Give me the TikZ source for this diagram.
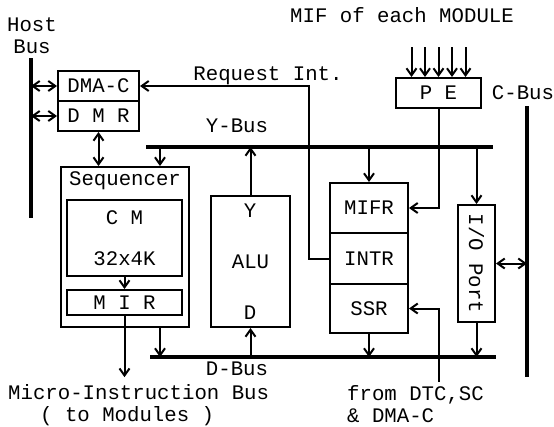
\documentclass[tikz,border=0pt]{standalone}
\usepackage{fontspec}
\setmonofont{Liberation Mono}
\usetikzlibrary{arrows.meta,calc}
\begin{document}
\begin{tikzpicture}[x=1pt,y=-1pt,
    >={Straight Barb[length=7pt,width=10pt]},
    every node/.style={font=\ttfamily\fontsize{20.7}{22}\selectfont, inner sep=0pt},
    blk/.style={draw, line width=2pt},
    bus/.style={line width=4.5pt},
    lnk/.style={line width=2pt}]
    \useasboundingbox (0,0) rectangle (554,426);
    % buses
    \coordinate (hb1) at (31,58);   \coordinate (hb2) at (31,218);
    \coordinate (yb1) at (146,147); \coordinate (yb2) at (493,147);
    \coordinate (db1) at (150,357); \coordinate (db2) at (496,357);
    \coordinate (cb1) at (527,106); \coordinate (cb2) at (527,377);
    \draw[bus] (hb1) -- (hb2);
    \draw[bus] (yb1) -- (yb2);
    \draw[bus] (db1) -- (db2);
    \draw[bus] (cb1) -- (cb2);
    % blocks
    \node[blk, minimum width=81, minimum height=30] (dmac) at (98.5,86) {DMA-C};
    \node[blk, minimum width=81, minimum height=30] (dmr) at (98.5,116) {D M R};
    \node[blk, minimum width=128, minimum height=160] (seq) at (125,247) {};
    \node (seqt) at (125,181) {Sequencer};
    \node[blk, minimum width=115, minimum height=76, align=center] (cm) at (124.5,238) {C M\\[19pt]32x4K};
    \node[blk, minimum width=115, minimum height=25] (mir) at (124.5,302.5) {M I R};
    \node[blk, minimum width=79, minimum height=131] (alu) at (250.5,261.5) {ALU};
    \node (aluy) at (250,211) {Y};
    \node (alud) at (250,313) {D};
    \node[blk, minimum width=78, minimum height=50] (mifr) at (369,208) {MIFR};
    \node[blk, minimum width=78, minimum height=51] (intr) at (369,258.5) {INTR};
    \node[blk, minimum width=78, minimum height=49] (ssr) at (369,308.5) {SSR};
    \node[blk, minimum width=37, minimum height=117] (io) at (476.5,263.5) {\rotatebox{-90}{I/O Port}};
    \node[blk, minimum width=85, minimum height=30] (pe) at (438.5,93) {P E};
    % labels
    \node[align=center] (host) at (32,36) {Host\\Bus};
    \node (mif) at (402,15) {MIF of each MODULE};
    \node (req) at (268,76) {Request Int.};
    \node (ybl) at (237,126) {Y-Bus};
    \node (dbl) at (237,369) {D-Bus};
    \node (cbl) at (523,93) {C-Bus};
    \node[align=left, anchor=west] (mib) at (8,405) {Micro-Instruction Bus\\\hspace*{32pt}( to Modules )};
    \node[align=left, anchor=west] (dtc) at (347,404) {from DTC,SC\\\& DMA-C};
    % connections
    \coordinate (ys) at (160,147);
    \coordinate (dtcin) at (439,382);
    \draw[lnk,<->] (dmac.west -| hb1) -- (dmac.west);
    \draw[lnk,<->] (dmr.west -| hb1) -- (dmr.west);
    \draw[lnk,<->] (dmr.south) -- (dmr.south |- seq.north);
    \draw[lnk,->] (ys) -- (ys |- seq.north);
    \draw[lnk,->] (ys |- seq.south) -- (ys |- db1);
    \draw[lnk,->] (alu.north) -- (alu.north |- yb1);
    \draw[lnk,->] (alu.south |- db1) -- (alu.south);
    \draw[lnk,->] (cm.south) -- (mir.north);
    \draw[lnk,->] (mir.south) -- ([yshift=7pt]mir.south |- mib.north);
    \draw[lnk,->] (mifr.north |- yb1) -- (mifr.north);
    \draw[lnk,->] (ssr.south) -- (ssr.south |- db1);
    \draw[lnk,->] (pe.south) |- (mifr.east);
    \draw[lnk,->] (intr.west) -- ++(-20,0) |- (dmac.east);
    \foreach \dx in {-27,-13.5,0,13.5,27}
        \draw[lnk,->] ($(pe.north)+(\dx,-30)$) -- ($(pe.north)+(\dx,0)$);
    \draw[lnk,->] (io.north |- yb1) -- (io.north);
    \draw[lnk,->] (io.south) -- (io.south |- db1);
    \draw[lnk,<->] (io.east) -- (io.east -| cb1);
    \draw[lnk,->] (dtcin) |- (ssr.east);
\end{tikzpicture}
\end{document}
